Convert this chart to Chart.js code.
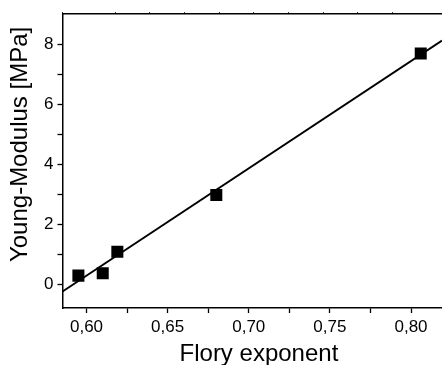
<!DOCTYPE html>
<html>
<head>
<meta charset="utf-8">
<script src="https://cdn.jsdelivr.net/npm/chart.js@4.4.0/dist/chart.umd.min.js"></script>
<style>
  html, body { margin: 0; padding: 0; background: #fff; overflow: hidden; }
  #wrap { width: 442px; height: 365px; }
</style>
</head>
<body>
<div id="wrap"><canvas id="floryChart"></canvas></div>
<script>
// measured points
const floryExp = [0.595, 0.610, 0.619, 0.680, 0.806];
const youngMod = [0.28, 0.36, 1.08, 2.97, 7.69];

// linear fit at both ends
const fitX = [0.5852, 0.8191];
const fitY = [-0.25, 8.12];

const xTickLabels = ['0,60', '0,65', '0,70', '0,75', '0,80'];
const yTickLabels = ['0', '2', '4', '6', '8'];

const FONT = 'Liberation Sans, Arial, sans-serif';

const ctx = document.getElementById('floryChart').getContext('2d');
new Chart(ctx, {
  type: 'scatter',
  data: {
    datasets: [{
      label: 'data',
      data: floryExp.map((x, i) => ({ x: x, y: youngMod[i] })),
      pointStyle: 'rect',
      pointRadius: 8.5,
      pointHoverRadius: 8.5,
      backgroundColor: '#000',
      borderColor: '#000',
      borderWidth: 0
    }, {
      type: 'line',
      label: 'fit',
      data: fitX.map((x, i) => ({ x: x, y: fitY[i] })),
      borderColor: '#000',
      borderWidth: 2,
      pointRadius: 0,
      fill: false
    }]
  },
  options: {
    responsive: true,
    maintainAspectRatio: false,
    animation: false,
    layout: { autoPadding: false, padding: 0 },
    plugins: { legend: { display: false }, tooltip: { enabled: false } },
    scales: {
      x: {
        type: 'linear',
        position: 'bottom',
        min: 0.5852,
        max: 0.8191,
        afterBuildTicks: s => {
          s.ticks = [];
          for (let k = 24; k <= 32; k++) s.ticks.push({ value: k * 0.025 });
        },
        ticks: {
          color: '#000',
          font: { family: FONT, size: 17 },
          padding: 4,
          maxRotation: 0,
          autoSkip: false,
          callback: v => {
            const k = Math.round(v * 1000);
            return k % 50 === 0 ? xTickLabels[(k - 600) / 50] : '';
          }
        },
        grid: { drawOnChartArea: false, tickLength: 5, tickColor: '#000', tickWidth: 1.3 },
        border: { color: '#000', width: 1.5 },
        title: {
          display: true,
          text: '  Flory exponent',
          color: '#000',
          font: { family: FONT, size: 24, lineHeight: 0.92 },
          padding: { top: 0, bottom: 0 }
        },
        afterFit: s => { s.height = 57; }
      },
      x2: {
        type: 'linear',
        position: 'top',
        min: -0.52,
        max: 10.43,
        ticks: { display: false, stepSize: 1 },
        grid: { drawOnChartArea: false, tickLength: 2, tickColor: '#000', tickWidth: 1 },
        border: { color: '#000', width: 1.5 },
        afterFit: s => { s.height = 12; }
      },
      y: {
        type: 'linear',
        min: -0.8,
        max: 9,
        afterBuildTicks: s => {
          s.ticks = [];
          for (let k = 0; k <= 8; k++) s.ticks.push({ value: k });
        },
        ticks: {
          color: '#000',
          font: { family: FONT, size: 17 },
          padding: 4,
          autoSkip: false,
          callback: v => (v % 2 === 0 ? yTickLabels[v / 2] : '')
        },
        grid: { drawOnChartArea: false, tickLength: 5, tickColor: '#000', tickWidth: 1.3 },
        border: { color: '#000', width: 1.5 },
        title: {
          display: true,
          text: '     Young-Modulus [MPa]',
          color: '#000',
          font: { family: FONT, size: 24 },
          padding: { top: 6, bottom: 0 }
        },
        afterFit: s => { s.width = 62.5; }
      }
    }
  }
});
</script>
</body>
</html>
